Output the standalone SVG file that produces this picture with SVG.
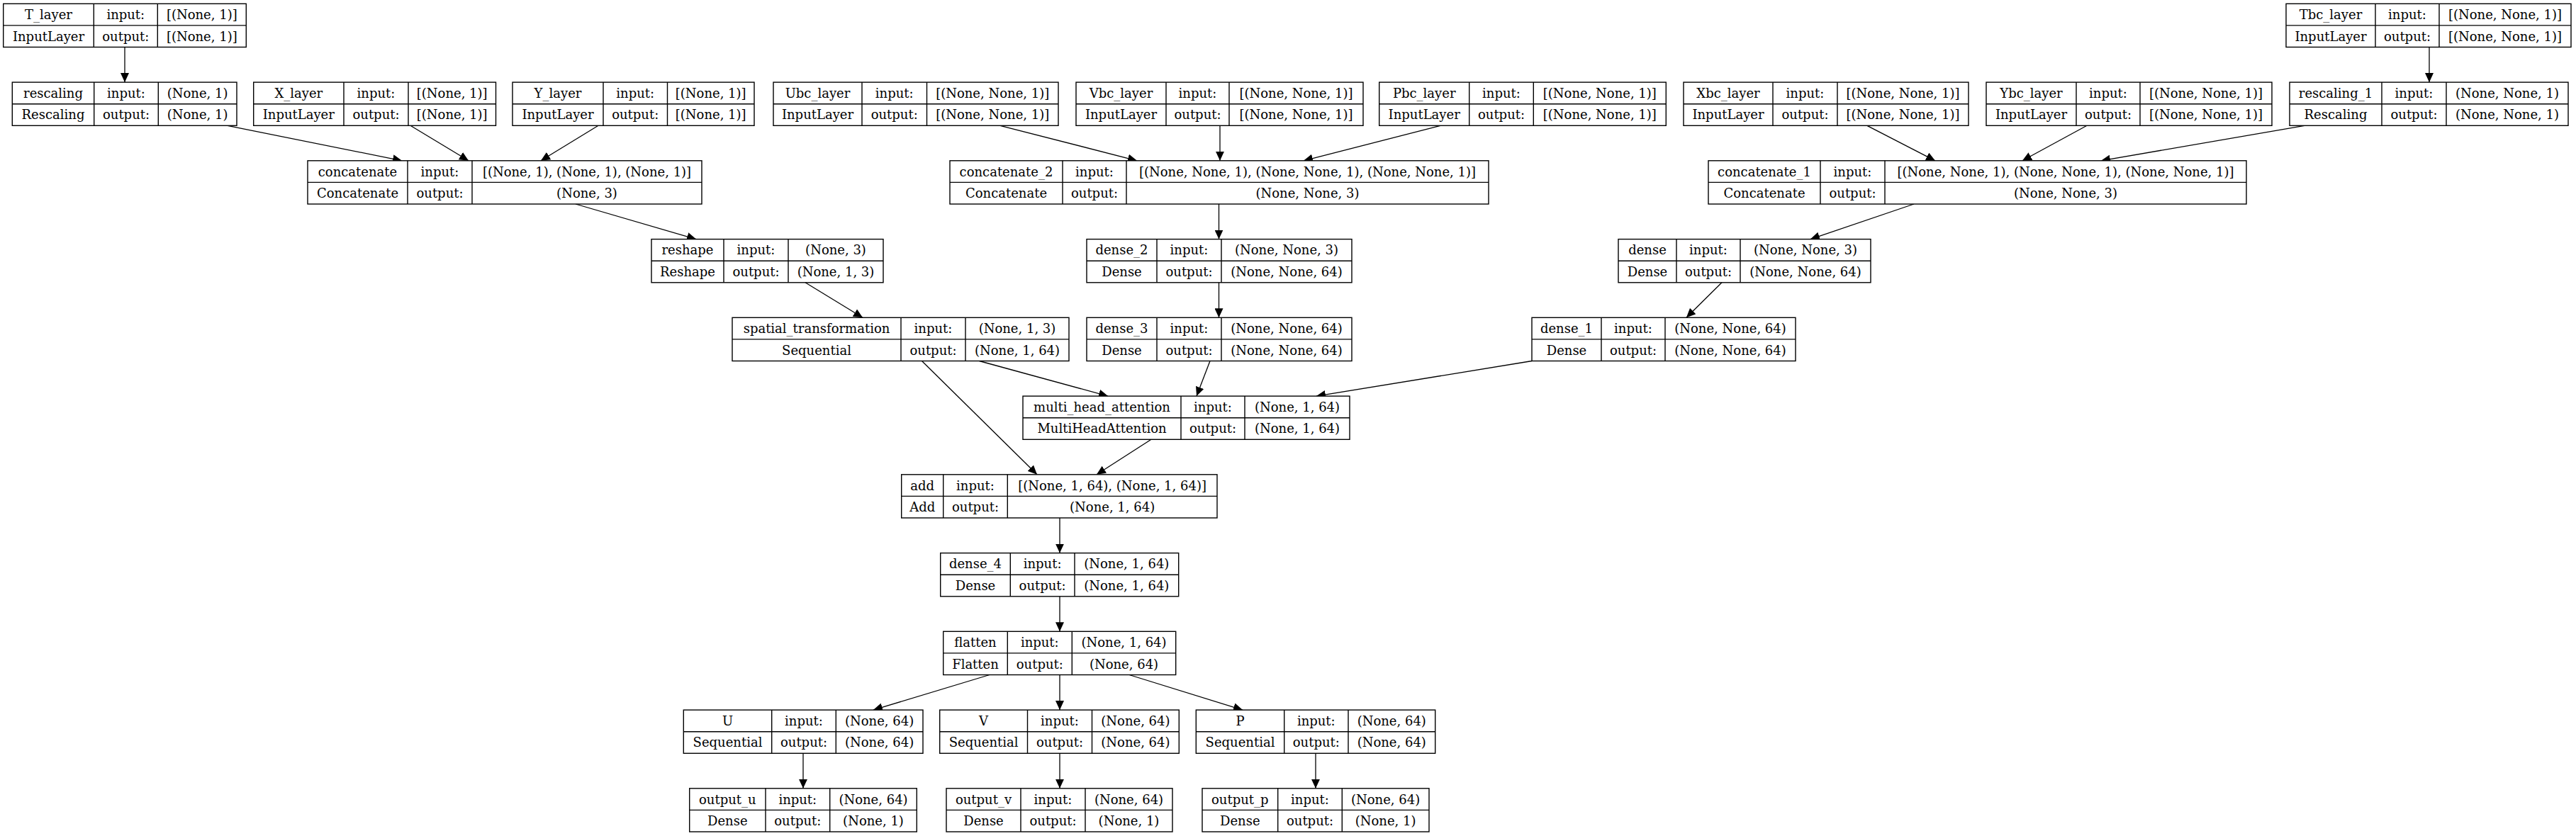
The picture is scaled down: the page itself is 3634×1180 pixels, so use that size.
<svg xmlns="http://www.w3.org/2000/svg" width="3634" height="1180" viewBox="0 0 3634 1180">
<style>
.box{fill:#fff;stroke:#000;stroke-width:1.4}
.sep{stroke:#000;stroke-width:1.4}
text{font-family:"DejaVu Serif",serif;font-size:18px;text-anchor:middle;fill:#000}
.edge{stroke:#000;stroke-width:1.3;fill:none;marker-end:url(#arrow)}
</style>
<defs>
<marker id="arrow" markerUnits="userSpaceOnUse" markerWidth="13" markerHeight="12" viewBox="0 0 13 12" refX="13" refY="6" orient="auto">
<path d="M0,0 L13,6 L0,12 z" fill="#000"/>
</marker>
</defs>
<rect x="0" y="0" width="3634" height="1180" fill="#fff"/>

<g id="edges">
<line class="edge" x1="176" y1="66.5" x2="176" y2="116.1"/>
<line class="edge" x1="321" y1="177.3" x2="567" y2="226.8"/>
<line class="edge" x1="579" y1="177.3" x2="661" y2="226.8"/>
<line class="edge" x1="844" y1="177.3" x2="763" y2="226.8"/>
<line class="edge" x1="812" y1="288" x2="982" y2="337.6"/>
<line class="edge" x1="1136" y1="398.8" x2="1217" y2="448.3"/>
<line class="edge" x1="1381.5" y1="509.5" x2="1563" y2="559.1"/>
<line class="edge" x1="1300.5" y1="509.5" x2="1463" y2="669.8"/>
<line class="edge" x1="1624" y1="620.3" x2="1547" y2="669.8"/>
<line class="edge" x1="1707" y1="509.5" x2="1688" y2="559.1"/>
<line class="edge" x1="2161" y1="509.5" x2="1857" y2="559.1"/>
<line class="edge" x1="2429" y1="398.8" x2="2379" y2="448.3"/>
<line class="edge" x1="2700" y1="288" x2="2554" y2="337.6"/>
<line class="edge" x1="1719.5" y1="398.8" x2="1719.5" y2="448.3"/>
<line class="edge" x1="1719.5" y1="288" x2="1719.5" y2="337.6"/>
<line class="edge" x1="1411" y1="177.3" x2="1604" y2="226.8"/>
<line class="edge" x1="1721" y1="177.3" x2="1721" y2="226.8"/>
<line class="edge" x1="2032" y1="177.3" x2="1839" y2="226.8"/>
<line class="edge" x1="2634" y1="177.3" x2="2730" y2="226.8"/>
<line class="edge" x1="2944" y1="177.3" x2="2853" y2="226.8"/>
<line class="edge" x1="3251" y1="177.3" x2="2964" y2="226.8"/>
<line class="edge" x1="3427" y1="66.5" x2="3427" y2="116.1"/>
<line class="edge" x1="1495" y1="731" x2="1495" y2="780.6"/>
<line class="edge" x1="1495" y1="841.8" x2="1495" y2="891.3"/>
<line class="edge" x1="1396" y1="952.5" x2="1232" y2="1002.1"/>
<line class="edge" x1="1495" y1="952.5" x2="1495" y2="1002.1"/>
<line class="edge" x1="1593" y1="952.5" x2="1753" y2="1002.1"/>
<line class="edge" x1="1133" y1="1063.3" x2="1133" y2="1112.8"/>
<line class="edge" x1="1495" y1="1063.3" x2="1495" y2="1112.8"/>
<line class="edge" x1="1856" y1="1063.3" x2="1856" y2="1112.8"/>
</g>

<g id="T_layer">
<rect class="box" x="4.7" y="5.3" width="342.6" height="61.2"/>
<line class="sep" x1="4.7" y1="35.9" x2="347.3" y2="35.9"/>
<line class="sep" x1="132.3" y1="5.3" x2="132.3" y2="66.5"/>
<line class="sep" x1="222.3" y1="5.3" x2="222.3" y2="66.5"/>
<text x="68.5" y="27">T_layer</text><text x="177.3" y="27">input:</text><text x="284.8" y="27">[(None, 1)]</text>
<text x="68.5" y="57.6">InputLayer</text><text x="177.3" y="57.6">output:</text><text x="284.8" y="57.6">[(None, 1)]</text>
</g>

<g id="Tbc_layer">
<rect class="box" x="3225" y="5.3" width="402" height="61.2"/>
<line class="sep" x1="3225" y1="35.9" x2="3627" y2="35.9"/>
<line class="sep" x1="3351" y1="5.3" x2="3351" y2="66.5"/>
<line class="sep" x1="3441" y1="5.3" x2="3441" y2="66.5"/>
<text x="3288" y="27">Tbc_layer</text><text x="3396" y="27">input:</text><text x="3534" y="27">[(None, None, 1)]</text>
<text x="3288" y="57.6">InputLayer</text><text x="3396" y="57.6">output:</text><text x="3534" y="57.6">[(None, None, 1)]</text>
</g>

<g id="rescaling">
<rect class="box" x="17.3" y="116.1" width="316.7" height="61.2"/>
<line class="sep" x1="17.3" y1="146.7" x2="334" y2="146.7"/>
<line class="sep" x1="132.7" y1="116.1" x2="132.7" y2="177.3"/>
<line class="sep" x1="223.3" y1="116.1" x2="223.3" y2="177.3"/>
<text x="75" y="137.8">rescaling</text><text x="178" y="137.8">input:</text><text x="278.6" y="137.8">(None, 1)</text>
<text x="75" y="168.4">Rescaling</text><text x="178" y="168.4">output:</text><text x="278.6" y="168.4">(None, 1)</text>
</g>

<g id="X_layer">
<rect class="box" x="357.7" y="116.1" width="341.8" height="61.2"/>
<line class="sep" x1="357.7" y1="146.7" x2="699.5" y2="146.7"/>
<line class="sep" x1="485" y1="116.1" x2="485" y2="177.3"/>
<line class="sep" x1="576" y1="116.1" x2="576" y2="177.3"/>
<text x="421.3" y="137.8">X_layer</text><text x="530.5" y="137.8">input:</text><text x="637.7" y="137.8">[(None, 1)]</text>
<text x="421.3" y="168.4">InputLayer</text><text x="530.5" y="168.4">output:</text><text x="637.7" y="168.4">[(None, 1)]</text>
</g>

<g id="Y_layer">
<rect class="box" x="723" y="116.1" width="341" height="61.2"/>
<line class="sep" x1="723" y1="146.7" x2="1064" y2="146.7"/>
<line class="sep" x1="851" y1="116.1" x2="851" y2="177.3"/>
<line class="sep" x1="941.5" y1="116.1" x2="941.5" y2="177.3"/>
<text x="787" y="137.8">Y_layer</text><text x="896.2" y="137.8">input:</text><text x="1002.7" y="137.8">[(None, 1)]</text>
<text x="787" y="168.4">InputLayer</text><text x="896.2" y="168.4">output:</text><text x="1002.7" y="168.4">[(None, 1)]</text>
</g>

<g id="Ubc_layer">
<rect class="box" x="1091" y="116.1" width="402" height="61.2"/>
<line class="sep" x1="1091" y1="146.7" x2="1493" y2="146.7"/>
<line class="sep" x1="1216" y1="116.1" x2="1216" y2="177.3"/>
<line class="sep" x1="1307.5" y1="116.1" x2="1307.5" y2="177.3"/>
<text x="1153.5" y="137.8">Ubc_layer</text><text x="1261.7" y="137.8">input:</text><text x="1400.2" y="137.8">[(None, None, 1)]</text>
<text x="1153.5" y="168.4">InputLayer</text><text x="1261.7" y="168.4">output:</text><text x="1400.2" y="168.4">[(None, None, 1)]</text>
</g>

<g id="Vbc_layer">
<rect class="box" x="1518" y="116.1" width="405" height="61.2"/>
<line class="sep" x1="1518" y1="146.7" x2="1923" y2="146.7"/>
<line class="sep" x1="1645" y1="116.1" x2="1645" y2="177.3"/>
<line class="sep" x1="1734" y1="116.1" x2="1734" y2="177.3"/>
<text x="1581.5" y="137.8">Vbc_layer</text><text x="1689.5" y="137.8">input:</text><text x="1828.5" y="137.8">[(None, None, 1)]</text>
<text x="1581.5" y="168.4">InputLayer</text><text x="1689.5" y="168.4">output:</text><text x="1828.5" y="168.4">[(None, None, 1)]</text>
</g>

<g id="Pbc_layer">
<rect class="box" x="1945.7" y="116.1" width="404.6" height="61.2"/>
<line class="sep" x1="1945.7" y1="146.7" x2="2350.3" y2="146.7"/>
<line class="sep" x1="2072.7" y1="116.1" x2="2072.7" y2="177.3"/>
<line class="sep" x1="2163.3" y1="116.1" x2="2163.3" y2="177.3"/>
<text x="2009.2" y="137.8">Pbc_layer</text><text x="2118" y="137.8">input:</text><text x="2256.8" y="137.8">[(None, None, 1)]</text>
<text x="2009.2" y="168.4">InputLayer</text><text x="2118" y="168.4">output:</text><text x="2256.8" y="168.4">[(None, None, 1)]</text>
</g>

<g id="Xbc_layer">
<rect class="box" x="2375" y="116.1" width="402" height="61.2"/>
<line class="sep" x1="2375" y1="146.7" x2="2777" y2="146.7"/>
<line class="sep" x1="2501" y1="116.1" x2="2501" y2="177.3"/>
<line class="sep" x1="2592" y1="116.1" x2="2592" y2="177.3"/>
<text x="2438" y="137.8">Xbc_layer</text><text x="2546.5" y="137.8">input:</text><text x="2684.5" y="137.8">[(None, None, 1)]</text>
<text x="2438" y="168.4">InputLayer</text><text x="2546.5" y="168.4">output:</text><text x="2684.5" y="168.4">[(None, None, 1)]</text>
</g>

<g id="Ybc_layer">
<rect class="box" x="2802" y="116.1" width="403" height="61.2"/>
<line class="sep" x1="2802" y1="146.7" x2="3205" y2="146.7"/>
<line class="sep" x1="2929" y1="116.1" x2="2929" y2="177.3"/>
<line class="sep" x1="3019" y1="116.1" x2="3019" y2="177.3"/>
<text x="2865.5" y="137.8">Ybc_layer</text><text x="2974" y="137.8">input:</text><text x="3112" y="137.8">[(None, None, 1)]</text>
<text x="2865.5" y="168.4">InputLayer</text><text x="2974" y="168.4">output:</text><text x="3112" y="168.4">[(None, None, 1)]</text>
</g>

<g id="rescaling_1">
<rect class="box" x="3230" y="116.1" width="393" height="61.2"/>
<line class="sep" x1="3230" y1="146.7" x2="3623" y2="146.7"/>
<line class="sep" x1="3360" y1="116.1" x2="3360" y2="177.3"/>
<line class="sep" x1="3451" y1="116.1" x2="3451" y2="177.3"/>
<text x="3295" y="137.8">rescaling_1</text><text x="3405.5" y="137.8">input:</text><text x="3537" y="137.8">(None, None, 1)</text>
<text x="3295" y="168.4">Rescaling</text><text x="3405.5" y="168.4">output:</text><text x="3537" y="168.4">(None, None, 1)</text>
</g>

<g id="concatenate">
<rect class="box" x="434" y="226.8" width="556" height="61.2"/>
<line class="sep" x1="434" y1="257.4" x2="990" y2="257.4"/>
<line class="sep" x1="575" y1="226.8" x2="575" y2="288"/>
<line class="sep" x1="666" y1="226.8" x2="666" y2="288"/>
<text x="504.5" y="248.5">concatenate</text><text x="620.5" y="248.5">input:</text><text x="828" y="248.5">[(None, 1), (None, 1), (None, 1)]</text>
<text x="504.5" y="279.1">Concatenate</text><text x="620.5" y="279.1">output:</text><text x="828" y="279.1">(None, 3)</text>
</g>

<g id="concatenate_2">
<rect class="box" x="1340" y="226.8" width="760" height="61.2"/>
<line class="sep" x1="1340" y1="257.4" x2="2100" y2="257.4"/>
<line class="sep" x1="1499" y1="226.8" x2="1499" y2="288"/>
<line class="sep" x1="1589" y1="226.8" x2="1589" y2="288"/>
<text x="1419.5" y="248.5">concatenate_2</text><text x="1544" y="248.5">input:</text><text x="1844.5" y="248.5">[(None, None, 1), (None, None, 1), (None, None, 1)]</text>
<text x="1419.5" y="279.1">Concatenate</text><text x="1544" y="279.1">output:</text><text x="1844.5" y="279.1">(None, None, 3)</text>
</g>

<g id="concatenate_1">
<rect class="box" x="2410" y="226.8" width="759" height="61.2"/>
<line class="sep" x1="2410" y1="257.4" x2="3169" y2="257.4"/>
<line class="sep" x1="2568" y1="226.8" x2="2568" y2="288"/>
<line class="sep" x1="2659" y1="226.8" x2="2659" y2="288"/>
<text x="2489" y="248.5">concatenate_1</text><text x="2613.5" y="248.5">input:</text><text x="2914" y="248.5">[(None, None, 1), (None, None, 1), (None, None, 1)]</text>
<text x="2489" y="279.1">Concatenate</text><text x="2613.5" y="279.1">output:</text><text x="2914" y="279.1">(None, None, 3)</text>
</g>

<g id="reshape">
<rect class="box" x="919" y="337.6" width="327" height="61.2"/>
<line class="sep" x1="919" y1="368.2" x2="1246" y2="368.2"/>
<line class="sep" x1="1021" y1="337.6" x2="1021" y2="398.8"/>
<line class="sep" x1="1112" y1="337.6" x2="1112" y2="398.8"/>
<text x="970" y="359.3">reshape</text><text x="1066.5" y="359.3">input:</text><text x="1179" y="359.3">(None, 3)</text>
<text x="970" y="389.9">Reshape</text><text x="1066.5" y="389.9">output:</text><text x="1179" y="389.9">(None, 1, 3)</text>
</g>

<g id="dense_2">
<rect class="box" x="1533" y="337.6" width="374" height="61.2"/>
<line class="sep" x1="1533" y1="368.2" x2="1907" y2="368.2"/>
<line class="sep" x1="1632" y1="337.6" x2="1632" y2="398.8"/>
<line class="sep" x1="1723" y1="337.6" x2="1723" y2="398.8"/>
<text x="1582.5" y="359.3">dense_2</text><text x="1677.5" y="359.3">input:</text><text x="1815" y="359.3">(None, None, 3)</text>
<text x="1582.5" y="389.9">Dense</text><text x="1677.5" y="389.9">output:</text><text x="1815" y="389.9">(None, None, 64)</text>
</g>

<g id="dense">
<rect class="box" x="2283" y="337.6" width="356" height="61.2"/>
<line class="sep" x1="2283" y1="368.2" x2="2639" y2="368.2"/>
<line class="sep" x1="2365" y1="337.6" x2="2365" y2="398.8"/>
<line class="sep" x1="2455" y1="337.6" x2="2455" y2="398.8"/>
<text x="2324" y="359.3">dense</text><text x="2410" y="359.3">input:</text><text x="2547" y="359.3">(None, None, 3)</text>
<text x="2324" y="389.9">Dense</text><text x="2410" y="389.9">output:</text><text x="2547" y="389.9">(None, None, 64)</text>
</g>

<g id="spatial_transformation">
<rect class="box" x="1033" y="448.3" width="475" height="61.2"/>
<line class="sep" x1="1033" y1="478.9" x2="1508" y2="478.9"/>
<line class="sep" x1="1271" y1="448.3" x2="1271" y2="509.5"/>
<line class="sep" x1="1362" y1="448.3" x2="1362" y2="509.5"/>
<text x="1152" y="470">spatial_transformation</text><text x="1316.5" y="470">input:</text><text x="1435" y="470">(None, 1, 3)</text>
<text x="1152" y="500.6">Sequential</text><text x="1316.5" y="500.6">output:</text><text x="1435" y="500.6">(None, 1, 64)</text>
</g>

<g id="dense_3">
<rect class="box" x="1533" y="448.3" width="374" height="61.2"/>
<line class="sep" x1="1533" y1="478.9" x2="1907" y2="478.9"/>
<line class="sep" x1="1632" y1="448.3" x2="1632" y2="509.5"/>
<line class="sep" x1="1723" y1="448.3" x2="1723" y2="509.5"/>
<text x="1582.5" y="470">dense_3</text><text x="1677.5" y="470">input:</text><text x="1815" y="470">(None, None, 64)</text>
<text x="1582.5" y="500.6">Dense</text><text x="1677.5" y="500.6">output:</text><text x="1815" y="500.6">(None, None, 64)</text>
</g>

<g id="dense_1">
<rect class="box" x="2161" y="448.3" width="372" height="61.2"/>
<line class="sep" x1="2161" y1="478.9" x2="2533" y2="478.9"/>
<line class="sep" x1="2259" y1="448.3" x2="2259" y2="509.5"/>
<line class="sep" x1="2349" y1="448.3" x2="2349" y2="509.5"/>
<text x="2210" y="470">dense_1</text><text x="2304" y="470">input:</text><text x="2441" y="470">(None, None, 64)</text>
<text x="2210" y="500.6">Dense</text><text x="2304" y="500.6">output:</text><text x="2441" y="500.6">(None, None, 64)</text>
</g>

<g id="multi_head_attention">
<rect class="box" x="1443" y="559.1" width="461" height="61.2"/>
<line class="sep" x1="1443" y1="589.7" x2="1904" y2="589.7"/>
<line class="sep" x1="1666" y1="559.1" x2="1666" y2="620.3"/>
<line class="sep" x1="1756" y1="559.1" x2="1756" y2="620.3"/>
<text x="1554.5" y="580.8">multi_head_attention</text><text x="1711" y="580.8">input:</text><text x="1830" y="580.8">(None, 1, 64)</text>
<text x="1554.5" y="611.4">MultiHeadAttention</text><text x="1711" y="611.4">output:</text><text x="1830" y="611.4">(None, 1, 64)</text>
</g>

<g id="add">
<rect class="box" x="1271.7" y="669.8" width="445.3" height="61.2"/>
<line class="sep" x1="1271.7" y1="700.4" x2="1717" y2="700.4"/>
<line class="sep" x1="1330.7" y1="669.8" x2="1330.7" y2="731"/>
<line class="sep" x1="1421.3" y1="669.8" x2="1421.3" y2="731"/>
<text x="1301.2" y="691.5">add</text><text x="1376" y="691.5">input:</text><text x="1569.1" y="691.5">[(None, 1, 64), (None, 1, 64)]</text>
<text x="1301.2" y="722.1">Add</text><text x="1376" y="722.1">output:</text><text x="1569.1" y="722.1">(None, 1, 64)</text>
</g>

<g id="dense_4">
<rect class="box" x="1326.7" y="780.6" width="336" height="61.2"/>
<line class="sep" x1="1326.7" y1="811.2" x2="1662.7" y2="811.2"/>
<line class="sep" x1="1425.3" y1="780.6" x2="1425.3" y2="841.8"/>
<line class="sep" x1="1516" y1="780.6" x2="1516" y2="841.8"/>
<text x="1376" y="802.3">dense_4</text><text x="1470.6" y="802.3">input:</text><text x="1589.3" y="802.3">(None, 1, 64)</text>
<text x="1376" y="832.9">Dense</text><text x="1470.6" y="832.9">output:</text><text x="1589.3" y="832.9">(None, 1, 64)</text>
</g>

<g id="flatten">
<rect class="box" x="1330.7" y="891.3" width="328" height="61.2"/>
<line class="sep" x1="1330.7" y1="921.9" x2="1658.7" y2="921.9"/>
<line class="sep" x1="1421.3" y1="891.3" x2="1421.3" y2="952.5"/>
<line class="sep" x1="1512.3" y1="891.3" x2="1512.3" y2="952.5"/>
<text x="1376" y="913">flatten</text><text x="1466.8" y="913">input:</text><text x="1585.5" y="913">(None, 1, 64)</text>
<text x="1376" y="943.6">Flatten</text><text x="1466.8" y="943.6">output:</text><text x="1585.5" y="943.6">(None, 64)</text>
</g>

<g id="U">
<rect class="box" x="964.3" y="1002.1" width="337.7" height="61.2"/>
<line class="sep" x1="964.3" y1="1032.7" x2="1302" y2="1032.7"/>
<line class="sep" x1="1088.7" y1="1002.1" x2="1088.7" y2="1063.3"/>
<line class="sep" x1="1179.3" y1="1002.1" x2="1179.3" y2="1063.3"/>
<text x="1026.5" y="1023.8">U</text><text x="1134" y="1023.8">input:</text><text x="1240.6" y="1023.8">(None, 64)</text>
<text x="1026.5" y="1054.4">Sequential</text><text x="1134" y="1054.4">output:</text><text x="1240.6" y="1054.4">(None, 64)</text>
</g>

<g id="V">
<rect class="box" x="1325.7" y="1002.1" width="337.6" height="61.2"/>
<line class="sep" x1="1325.7" y1="1032.7" x2="1663.3" y2="1032.7"/>
<line class="sep" x1="1449.5" y1="1002.1" x2="1449.5" y2="1063.3"/>
<line class="sep" x1="1540.5" y1="1002.1" x2="1540.5" y2="1063.3"/>
<text x="1387.6" y="1023.8">V</text><text x="1495" y="1023.8">input:</text><text x="1601.9" y="1023.8">(None, 64)</text>
<text x="1387.6" y="1054.4">Sequential</text><text x="1495" y="1054.4">output:</text><text x="1601.9" y="1054.4">(None, 64)</text>
</g>

<g id="P">
<rect class="box" x="1687.3" y="1002.1" width="337.4" height="61.2"/>
<line class="sep" x1="1687.3" y1="1032.7" x2="2024.7" y2="1032.7"/>
<line class="sep" x1="1811.7" y1="1002.1" x2="1811.7" y2="1063.3"/>
<line class="sep" x1="1902" y1="1002.1" x2="1902" y2="1063.3"/>
<text x="1749.5" y="1023.8">P</text><text x="1856.8" y="1023.8">input:</text><text x="1963.3" y="1023.8">(None, 64)</text>
<text x="1749.5" y="1054.4">Sequential</text><text x="1856.8" y="1054.4">output:</text><text x="1963.3" y="1054.4">(None, 64)</text>
</g>

<g id="output_u">
<rect class="box" x="972.7" y="1112.8" width="320.6" height="61.2"/>
<line class="sep" x1="972.7" y1="1143.4" x2="1293.3" y2="1143.4"/>
<line class="sep" x1="1080" y1="1112.8" x2="1080" y2="1174"/>
<line class="sep" x1="1170.7" y1="1112.8" x2="1170.7" y2="1174"/>
<text x="1026.3" y="1134.5">output_u</text><text x="1125.3" y="1134.5">input:</text><text x="1232" y="1134.5">(None, 64)</text>
<text x="1026.3" y="1165.1">Dense</text><text x="1125.3" y="1165.1">output:</text><text x="1232" y="1165.1">(None, 1)</text>
</g>

<g id="output_v">
<rect class="box" x="1335" y="1112.8" width="319" height="61.2"/>
<line class="sep" x1="1335" y1="1143.4" x2="1654" y2="1143.4"/>
<line class="sep" x1="1440" y1="1112.8" x2="1440" y2="1174"/>
<line class="sep" x1="1531" y1="1112.8" x2="1531" y2="1174"/>
<text x="1387.5" y="1134.5">output_v</text><text x="1485.5" y="1134.5">input:</text><text x="1592.5" y="1134.5">(None, 64)</text>
<text x="1387.5" y="1165.1">Dense</text><text x="1485.5" y="1165.1">output:</text><text x="1592.5" y="1165.1">(None, 1)</text>
</g>

<g id="output_p">
<rect class="box" x="1696" y="1112.8" width="320" height="61.2"/>
<line class="sep" x1="1696" y1="1143.4" x2="2016" y2="1143.4"/>
<line class="sep" x1="1802.7" y1="1112.8" x2="1802.7" y2="1174"/>
<line class="sep" x1="1893.3" y1="1112.8" x2="1893.3" y2="1174"/>
<text x="1749.3" y="1134.5">output_p</text><text x="1848" y="1134.5">input:</text><text x="1954.6" y="1134.5">(None, 64)</text>
<text x="1749.3" y="1165.1">Dense</text><text x="1848" y="1165.1">output:</text><text x="1954.6" y="1165.1">(None, 1)</text>
</g>
</svg>
